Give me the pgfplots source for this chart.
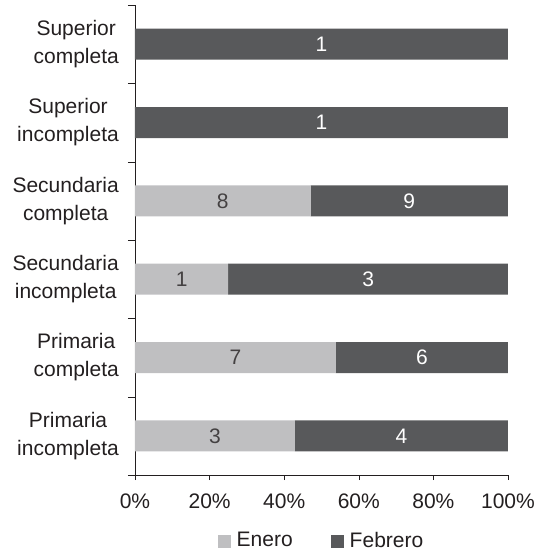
\documentclass[border=0pt]{standalone}
\usepackage{pgfplots}
\pgfplotsset{compat=1.18}
\usepackage{fontspec}
\setmainfont{Liberation Sans}
\definecolor{enero}{HTML}{BFBFC1}
\definecolor{febrero}{HTML}{58595B}
\definecolor{txt}{HTML}{231F20}

\begin{document}
\fontsize{21}{28}\selectfont
\begin{tikzpicture}[font=\fontsize{21}{28}\selectfont]
  \begin{axis}[
    width=373pt, height=470pt, scale only axis,
    at={(0,0)}, anchor=south west,
    xbar stacked, bar width=31pt,
    xmin=0, xmax=100, ymin=-0.5, ymax=5.5,
    axis lines*=left,
    axis line style={txt},
    xtick={0,20,...,100},
    xticklabel={\pgfmathprintnumber{\tick}\%},
    xticklabel style={yshift=-7pt},
    ytick={0,...,5},
    yticklabels={Primaria\\incompleta, Primaria\\completa, Secundaria\\incompleta,
                 Secundaria\\completa, Superior\\incompleta, Superior\\completa},
    yticklabel style={align=center, xshift=-4pt},
    major y tick style={draw=none},
    minor ytick={-0.5,0.5,...,5.5},
    tick align=outside, tick style={txt},
    major tick length=5pt, minor tick length=7pt,
    /pgf/number format/assume math mode=true,
    ticklabel style={text=txt},
    point meta=explicit symbolic,
    nodes near coords,
    every node near coord/.append style={anchor=center},
    legend style={at={(axis description cs:0.5,0)}, anchor=center, yshift=-66pt,
                  draw=none, legend columns=2, text=txt,
                  /tikz/every even column/.append style={column sep=36pt}},
  ]

    % Enero
    \addplot[fill=enero, draw=none,
             every node near coord/.append style={text=txt!85},
             legend image code/.code={\fill[enero] (0pt,-6.5pt) rectangle (13pt,6.5pt); \path (17pt,0pt);}]
      coordinates {
        (42.857,0)[3] (53.846,1)[7] (25,2)[1]
        (47.059,3)[8] (0,4)[{}] (0,5)[{}]
      };
    \addlegendentry{Enero}

    % Febrero
    \addplot[fill=febrero, draw=none,
             every node near coord/.append style={text=white},
             legend image code/.code={\fill[febrero] (0pt,-6.5pt) rectangle (13pt,6.5pt); \path (17pt,0pt);}]
      coordinates {
        (57.143,0)[4] (46.154,1)[6] (75,2)[3]
        (52.941,3)[9] (100,4)[1] (100,5)[1]
      };
    \addlegendentry{Febrero}

  \end{axis}
  \pgfresetboundingbox
  \path (-135pt,-75pt) rectangle (415pt,475pt);
\end{tikzpicture}
\end{document}
